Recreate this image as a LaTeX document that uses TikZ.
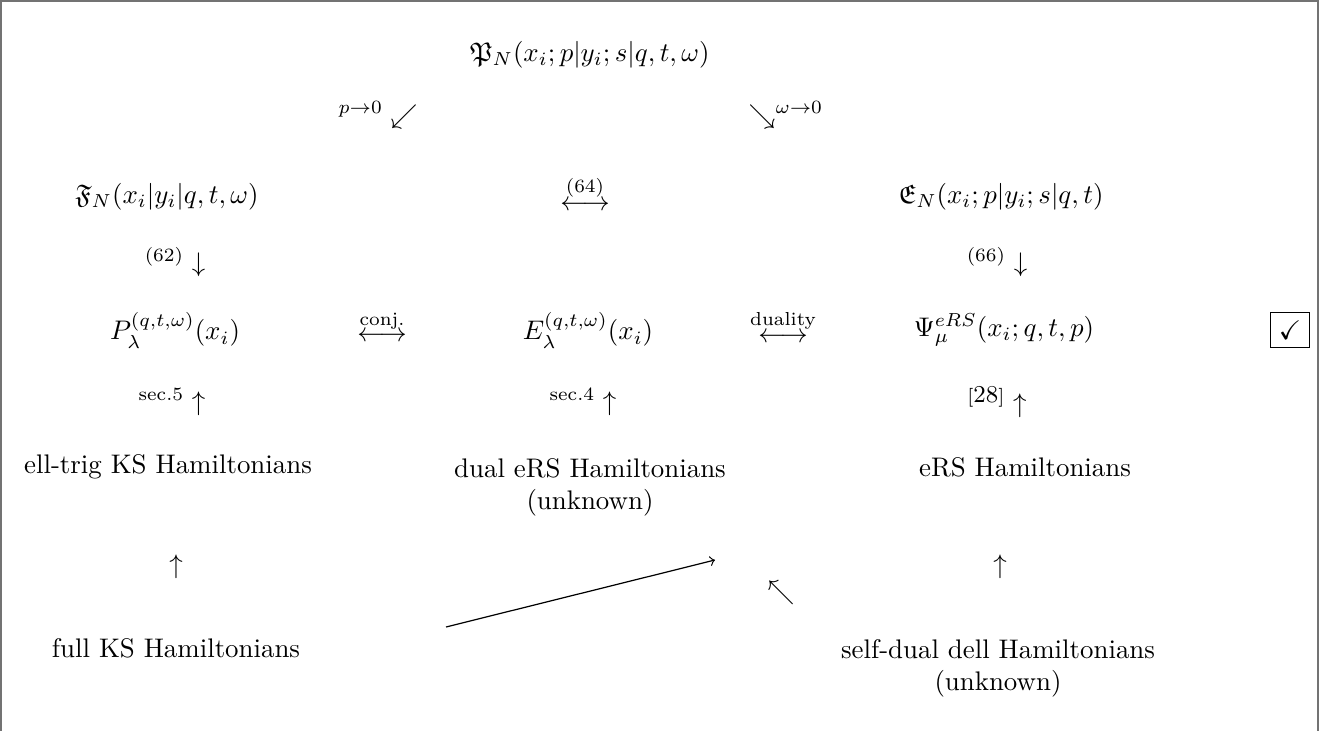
\documentclass[tikz,border=0pt]{standalone}
\usepackage{amsmath,amssymb}
\begin{document}
\begin{tikzpicture}[x=0.372pt,y=-0.372pt,
  txt/.style={inner sep=0pt, align=center},
  frameline/.style={black!55, line width=0.6pt},
  longarr/.style={->, line width=0.45pt}]
\useasboundingbox (0,0) rectangle (1320,731);
\draw[frameline] (1,731) -- (1,1) -- (1318,1) -- (1318,731);

% row 1
\node[txt] (PN) at (590,55) {$\mathfrak{P}_N(x_i;p|y_i;s|q,t,\omega)$};
% row 2
\node[txt] (pz) at (378,115) {${}^{p\to0}\swarrow$};
\node[txt] (wz) at (786,115) {$\searrow^{\omega\to0}$};
% row 3
\node[txt] (FN) at (167,197) {$\mathfrak{F}_N(x_i|y_i|q,t,\omega)$};
\node[txt] (a64) at (585,193) {$\overset{(64)}{\longleftrightarrow}$};
\node[txt] (EN) at (1001,197) {$\mathfrak{E}_N(x_i;p|y_i;s|q,t)$};
% row 4
\node[txt] (d62) at (175,262) {${}^{(62)}\downarrow$};
\node[txt] (d66) at (997,262) {${}^{(66)}\downarrow$};
% row 5
\node[txt] (Pl) at (175,330) {$P^{(q,t,\omega)}_\lambda(x_i)$};
\node[txt] (conj) at (382,326) {$\overset{\text{conj.}}{\longleftrightarrow}$};
\node[txt] (El) at (588,330) {$E^{(q,t,\omega)}_\lambda(x_i)$};
\node[txt] (dual) at (783,326) {$\overset{\text{duality}}{\longleftrightarrow}$};
\node[txt] (Psi) at (1004,330) {$\Psi^{eRS}_\mu(x_i;q,t,p)$};
\node[draw, inner sep=3pt, line width=0.4pt] (chk) at (1290,330) {$\checkmark$};
% row 6
\node[txt] (s5) at (172,402) {${}^{\text{sec.5}}\uparrow$};
\node[txt] (s4) at (583,402) {${}^{\text{sec.4}}\uparrow$};
\node[txt] (c28) at (997,402) {${}^{\text{\scriptsize[}\text{\small 28}\text{\scriptsize]}}\uparrow$};
% row 7
\node[txt] (ekS) at (168,467) {ell-trig KS Hamiltonians};
\node[txt, anchor=north] (deRS) at (590,458) {dual eRS Hamiltonians\\(unknown)};
\node[txt] (eRS) at (1025,467) {eRS Hamiltonians};
% row 8
\node[txt] (u1) at (176,567) {$\uparrow$};
\node[txt] (u2) at (1000,567) {$\uparrow$};
% row 9
\coordinate (la) at (446,627);
\coordinate (lb) at (715,560);
\draw[longarr] (la) -- (lb);
\node[txt] (nw) at (781,593) {$\nwarrow$};
% row 10
\node[txt] (fKS) at (176,648) {full KS Hamiltonians};
\node[txt, anchor=north] (sd) at (998,639) {self-dual dell Hamiltonians\\(unknown)};
\end{tikzpicture}
\end{document}
